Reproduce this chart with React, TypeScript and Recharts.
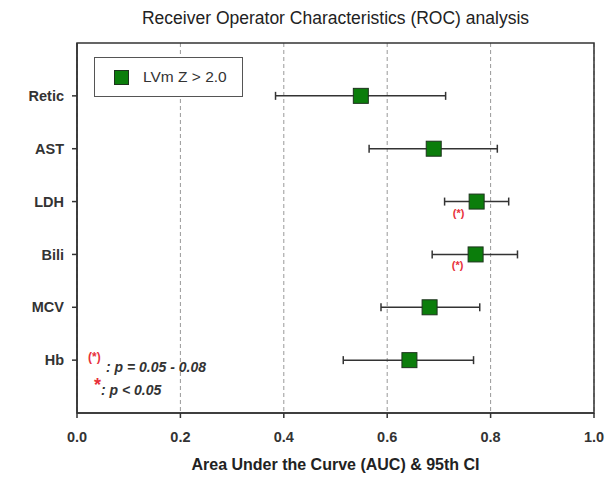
import React from "react";
import {
  ScatterChart,
  Scatter,
  XAxis,
  YAxis,
  CartesianGrid,
  ErrorBar,
  ReferenceArea,
  LabelList,
} from "recharts";

// markers, listed from top row to bottom row
const markers = ["Retic", "AST", "LDH", "Bili", "MCV", "Hb"];
const auc = [0.549, 0.69, 0.773, 0.771, 0.682, 0.643];
const ciLow = [0.384, 0.565, 0.711, 0.687, 0.588, 0.515];
const ciHigh = [0.713, 0.813, 0.835, 0.852, 0.779, 0.767];
const signif = ["", "", "(*)", "(*)", "", ""];
const xTicks = [0, 0.2, 0.4, 0.6, 0.8, 1.0];

const FONT = "'Liberation Sans', Arial, sans-serif";
const GREEN = "#0b7d0b";
const RED = "#e8303a";

const rows = markers.map((name, i) => ({
  name,
  row: markers.length - i,
  auc: auc[i],
  err: [auc[i] - ciLow[i], ciHigh[i] - auc[i]],
  sig: signif[i],
}));

const yTicks = rows.map((r) => r.row);
const rowName = (v: number) => rows.find((r) => r.row === v)?.name ?? "";

const Square = (props: any) => {
  const { cx, cy } = props;
  if (cx == null || cy == null) return null;
  const s = 15;
  return (
    <rect
      x={cx - s / 2}
      y={cy - s / 2}
      width={s}
      height={s}
      fill={GREEN}
      stroke="#1d331d"
      strokeWidth={1}
    />
  );
};

const SigLabel = (props: any) => {
  const { x, y, width, height, value } = props;
  if (!value) return null;
  const cx = x + width / 2;
  const cy = y + height / 2;
  return (
    <text
      x={cx - 18}
      y={cy + 15}
      textAnchor="middle"
      fontSize={11}
      fontWeight="bold"
      fill={RED}
      fontFamily={FONT}
    >
      {value}
    </text>
  );
};

const note: React.CSSProperties = {
  position: "absolute",
  fontSize: 14,
  lineHeight: 1,
  fontWeight: "bold",
  fontStyle: "italic",
  color: "#333",
  whiteSpace: "nowrap",
};

export default function App() {
  return (
    <div
      style={{
        position: "absolute",
        left: 0,
        top: 0,
        width: 614,
        height: 480,
        background: "#fff",
        fontFamily: FONT,
      }}
    >
      <div
        style={{
          position: "absolute",
          left: 77,
          width: 517,
          top: 8,
          textAlign: "center",
          fontSize: 17.5,
          color: "#222",
        }}
      >
        Receiver Operator Characteristics (ROC) analysis
      </div>
      <ScatterChart
        width={614}
        height={480}
        margin={{ top: 43, right: 20, bottom: 17, left: 7 }}
      >
        <CartesianGrid
          horizontal={false}
          stroke="#999"
          strokeDasharray="4 3"
        />
        <XAxis
          type="number"
          dataKey="auc"
          domain={[0, 1]}
          ticks={xTicks}
          tickFormatter={(v: number) => v.toFixed(1)}
          height={50}
          tickSize={5}
          tickMargin={14}
          stroke="#333"
          strokeWidth={1.5}
          tick={{ fontSize: 14.5, fontWeight: "bold", fill: "#333", fontFamily: FONT }}
        />
        <YAxis
          type="number"
          dataKey="row"
          domain={[0, 7]}
          ticks={yTicks}
          tickFormatter={rowName}
          width={70}
          tickSize={5}
          tickMargin={8}
          stroke="#333"
          strokeWidth={1.5}
          tick={{ fontSize: 14.5, fontWeight: "bold", fill: "#333", fontFamily: FONT }}
        />
        <ReferenceArea
          x1={0}
          x2={1}
          y1={0}
          y2={7}
          fill="none"
          stroke="#333"
          strokeWidth={1.5}
          ifOverflow="visible"
        />
        <Scatter
          name="LVm Z > 2.0"
          data={rows}
          shape={<Square />}
          isAnimationActive={false}
        >
          <ErrorBar
            dataKey="err"
            direction="x"
            width={4}
            stroke="#333"
            strokeWidth={1.5}
          />
          <LabelList dataKey="sig" content={<SigLabel />} />
        </Scatter>
      </ScatterChart>
      <div
        style={{
          position: "absolute",
          left: 94,
          top: 57,
          width: 149,
          height: 40,
          border: "1.5px solid #555",
          background: "#fff",
          display: "flex",
          alignItems: "center",
          boxSizing: "border-box",
          paddingLeft: 19,
          fontSize: 15.5,
          color: "#333",
        }}
      >
        <span
          style={{
            display: "inline-block",
            width: 13,
            height: 13,
            background: GREEN,
            border: "1px solid #1d331d",
            marginRight: 14,
          }}
        />
        LVm Z &gt; 2.0
      </div>
      <div style={{ ...note, left: 88, top: 351, fontSize: 12, color: RED, fontStyle: "normal" }}>
        (*)
      </div>
      <div style={{ ...note, left: 106, top: 360 }}>: p = 0.05 - 0.08</div>
      <div style={{ ...note, left: 94, top: 376, fontSize: 18, color: RED, fontStyle: "normal" }}>
        *
      </div>
      <div style={{ ...note, left: 101, top: 383 }}>: p &lt; 0.05</div>
      <div
        style={{
          position: "absolute",
          left: 77,
          width: 517,
          top: 456,
          textAlign: "center",
          fontSize: 16,
          fontWeight: "bold",
          color: "#222",
        }}
      >
        Area Under the Curve (AUC) &amp; 95th CI
      </div>
    </div>
  );
}
